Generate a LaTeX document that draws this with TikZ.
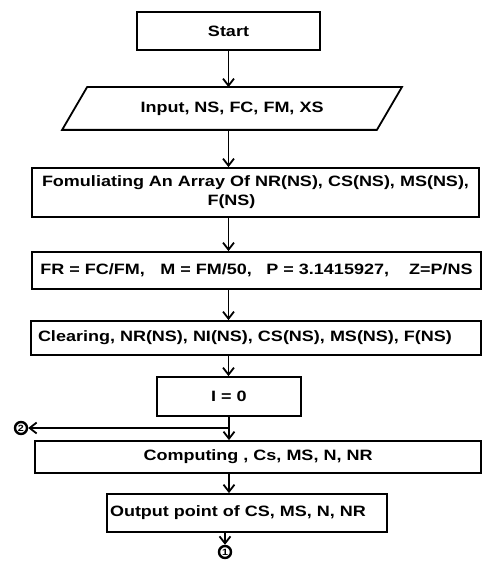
\documentclass[tikz,border=0pt]{standalone}
\usepackage{fontspec}
\setmainfont{Liberation Sans}[FakeStretch=1.2]
\usepackage{tikz}
\usetikzlibrary{arrows.meta,calc}

\begin{document}
\begin{tikzpicture}[x=1pt,y=-1pt,
  box/.style={draw,line width=1.8pt,inner sep=0pt,font=\fontsize{15}{19}\selectfont\bfseries},
  arr/.style={line width=1.8pt,-{Straight Barb[length=7pt,width=11pt,line width=1.8pt]}},
  conn/.style={circle,draw,line width=2.4pt,minimum size=12pt,inner sep=0pt,font=\fontsize{9}{9}\selectfont\bfseries}]
  \useasboundingbox (0,0) rectangle (482,569);

  \node[box,minimum width=183,minimum height=38] (start) at (228.5,31) {Start};
  \node[box,draw=none,minimum width=313,minimum height=41] (input) at (232,108.5) {Input, NS, FC, FM, XS};
  \draw[line width=1.8pt] ($(input.north west)+(12.5,0)$) -- ($(input.north east)+(12.5,0)$)
    -- ($(input.south east)+(-12.5,0)$) -- ($(input.south west)+(-12.5,0)$) -- cycle;
  \node[box,minimum width=447,minimum height=49,align=center] (array) at (255.5,192.5)
    {Fomuliating An Array Of NR(NS), CS(NS), MS(NS),\\\makebox[96pt][l]{F(NS)}};
  \node[box,minimum width=449,minimum height=37] (calc) at (256.5,270.5)
    {FR = FC/FM,\hspace{15.5pt}M = FM/50,\hspace{14.5pt}P = 3.1415927,\hspace{20pt}Z=P/NS};
  \node[box,inner xsep=7pt,text width=436pt,align=left,minimum height=34] (clear) at (256,338)
    {Clearing, NR(NS), NI(NS), CS(NS), MS(NS), F(NS)};
  \node[box,minimum width=144,minimum height=39] (init) at (229,396.5) {I = 0};
  \node[box,minimum width=446,minimum height=32] (compute) at (258,457) {Computing , Cs, MS, N, NR};
  \node[box,inner xsep=3pt,text width=274pt,align=left,minimum height=38] (output) at (247,513)
    {Output point of CS, MS, N, NR};

  % connectors
  \node[conn] (c2) at (21,428) {2};
  \node[conn] (c1) at (225,552) {1};
  \coordinate (loop) at (229,428);

  \draw[arr] (start.south) -- (start.south |- input.north);
  \draw[arr] (start |- input.south) -- (start |- array.north);
  \draw[arr] (start |- array.south) -- (start |- calc.north);
  \draw[arr] (start |- calc.south) -- (start |- clear.north);
  \draw[arr] (start |- clear.south) -- (start |- init.north);
  \draw[arr] (init.south) -- (init.south |- compute.north);
  \draw[arr] (loop) -- (c2);
  \draw[arr] (init |- compute.south) -- (init |- output.north);
  \draw[arr] (c1 |- output.south) -- (c1);
\end{tikzpicture}
\end{document}
